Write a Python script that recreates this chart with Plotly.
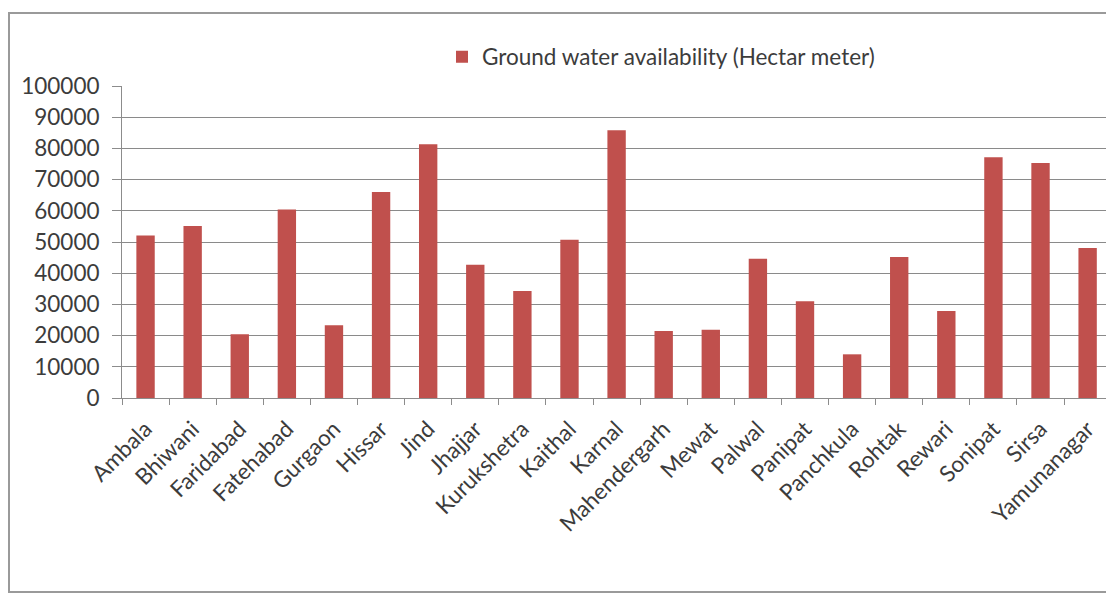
import plotly.graph_objects as go

# Districts of Haryana and their ground water availability (hectare metre)
districts = [
    "Ambala", "Bhiwani", "Faridabad", "Fatehabad", "Gurgaon", "Hissar", "Jind",
    "Jhajjar", "Kurukshetra", "Kaithal", "Karnal", "Mahendergarh", "Mewat",
    "Palwal", "Panipat", "Panchkula", "Rohtak", "Rewari", "Sonipat", "Sirsa",
    "Yamunanagar",
]
availability = [
    52100, 55100, 20400, 60400, 23300, 66000, 81300,
    42700, 34300, 50700, 85800, 21500, 21900,
    44600, 31000, 14000, 45200, 27900, 77200, 75300,
    48100,
]
series_name = "Ground water availability (Hectar meter)"
y_ticks = list(range(0, 100001, 10000))

W, H = 1106, 595
L, R, T, B = 122, 0, 86, 197

FONT = "Lato, 'Open Sans', sans-serif"
FS = 22.5
TEXT = "#3c3c3c"
BAR = "#C0504D"

fig = go.Figure(
    go.Bar(
        x=districts,
        y=availability,
        name=series_name,
        marker=dict(color=BAR, line=dict(width=0)),
        width=0.39,
        showlegend=True,
    )
)

pw = W - L - R
ph = H - T - B

def px_x(p):
    return (p - L) / pw

def px_y(p):
    return (H - B - p) / ph

fig.update_layout(
    width=W,
    height=H,
    margin=dict(l=L, r=R, t=T, b=B),
    paper_bgcolor="white",
    plot_bgcolor="white",
    font=dict(family=FONT, size=FS, color=TEXT),
    showlegend=True,
    legend=dict(
        orientation="h",
        x=px_x(442),
        y=px_y(57),
        xanchor="left",
        yanchor="middle",
        font=dict(family=FONT, size=FS, color=TEXT),
        bgcolor="rgba(0,0,0,0)",
        itemwidth=30,
    ),
    bargap=0.61,
    xaxis=dict(
        range=[-0.5, 20.39],
        tickangle=-45,
        tickson="boundaries",
        ticks="outside",
        ticklen=6,
        tickcolor="#8c8c8c",
        showline=True,
        linecolor="#8c8c8c",
        linewidth=1,
        showgrid=False,
        ticklabelstandoff=8,
        tickfont=dict(family=FONT, size=FS, color=TEXT),
        fixedrange=True,
    ),
    yaxis=dict(
        range=[0, 100000],
        tickvals=y_ticks,
        ticktext=[str(v) for v in y_ticks],
        ticks="outside",
        ticklen=9,
        tickcolor="#8c8c8c",
        showline=True,
        linecolor="#8c8c8c",
        linewidth=1,
        showgrid=True,
        gridcolor="#8a8a8a",
        gridwidth=1,
        zeroline=False,
        ticklabelstandoff=8,
        tickfont=dict(family=FONT, size=FS, color=TEXT),
        fixedrange=True,
    ),
    shapes=[
        # chart frame
        dict(
            type="rect",
            xref="paper",
            yref="paper",
            x0=px_x(9),
            x1=px_x(1120),
            y0=px_y(592),
            y1=px_y(13),
            line=dict(color="#9a9a9a", width=2),
            fillcolor="rgba(0,0,0,0)",
            layer="below",
        ),
    ],
)

fig.write_html("out.html")
